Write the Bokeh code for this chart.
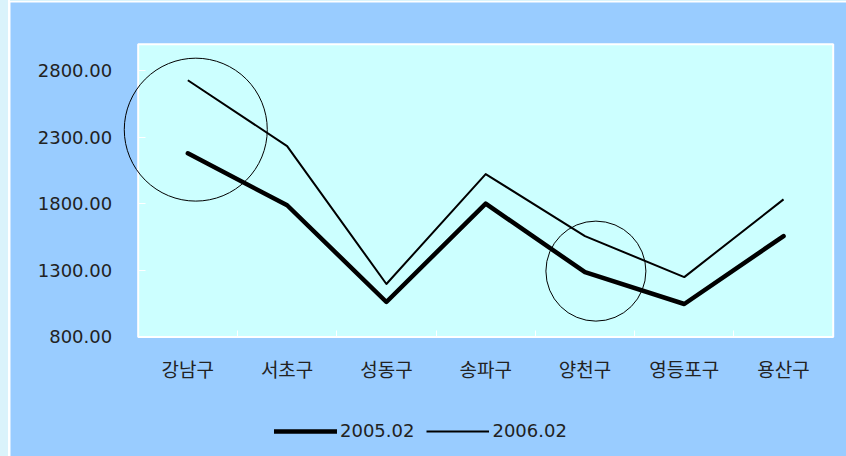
from bokeh.plotting import figure
from bokeh.models import (Range1d, LinearAxis, FixedTicker, PrintfTickFormatter,
                          Legend, LegendItem, Spacer, BoxAnnotation)
from bokeh.layouts import row, column
from bokeh.embed import file_html
from bokeh.resources import INLINE

# Apartment price per district (two survey months)
districts = ["강남구", "서초구", "성동구", "송파구", "양천구", "영등포구", "용산구"]
price_2005 = [2180, 1790, 1063, 1802, 1287, 1048, 1558]
price_2006 = [2729, 2234, 1198, 2024, 1558, 1250, 1834]
series_names = ["2005.02", "2006.02"]
y_ticks = [800, 1300, 1800, 2300, 2800]
y_min, y_max = 800, 3000

# Highlight rings: (x position on the district scale, value, diameter in px)
ring_x = [0.58, 4.61]
ring_y = [2358, 1295]
ring_size = [143, 100]

OUTER = "#99CCFF"
INNER = "#CCFFFF"
TEXT = "#222222"

n = len(districts)
xs = [i + 0.5 for i in range(n)]

# The frame fills the whole canvas; the plotting area is a box drawn in data
# space so that rings and the legend can spill past its edges.
p = figure(width=836, height=454, output_backend="svg", toolbar_location=None,
           x_range=Range1d(-1.286, n + 0.134), y_range=Range1d(-97.9, 3313.3),
           x_axis_location=None, y_axis_location=None,
           min_border=0)
p.background_fill_color = OUTER
p.border_fill_color = OUTER
p.outline_line_color = None
p.xgrid.visible = False
p.ygrid.visible = False

area = BoxAnnotation(left=0, right=n, bottom=y_min, top=y_max,
                     fill_color=INNER, fill_alpha=1,
                     line_color="white", line_width=2, line_alpha=1,
                     level="underlay")
p.add_layout(area)

# value axis
yax = LinearAxis(ticker=FixedTicker(ticks=y_ticks),
                 formatter=PrintfTickFormatter(format="%.2f"),
                 fixed_location=0)
yax.axis_line_color = None
yax.major_tick_in = 7
yax.major_tick_out = 0
yax.major_tick_line_color = "white"
yax.major_tick_line_width = 1
yax.minor_tick_line_color = None
yax.major_label_standoff = 26
yax.major_label_text_font = "DejaVu Sans"
yax.major_label_text_font_size = "18px"
yax.major_label_text_color = TEXT
p.add_layout(yax, "left")

# category boundary ticks
tax = LinearAxis(ticker=FixedTicker(ticks=list(range(1, n))), fixed_location=y_min)
tax.axis_line_color = None
tax.major_tick_in = 6
tax.major_tick_out = 0
tax.major_tick_line_color = "white"
tax.minor_tick_line_color = None
tax.major_label_overrides = {i: "" for i in range(1, n)}
p.add_layout(tax, "below")

# category labels
xax = LinearAxis(ticker=FixedTicker(ticks=xs),
                 major_label_overrides={x: d for x, d in zip(xs, districts)},
                 fixed_location=y_min)
xax.axis_line_color = None
xax.major_tick_in = 0
xax.major_tick_out = 0
xax.minor_tick_line_color = None
xax.major_label_standoff = 18
xax.major_label_text_font = "Noto Sans CJK KR"
xax.major_label_text_font_size = "19px"
xax.major_label_text_color = TEXT
p.add_layout(xax, "below")

r1 = p.line(xs, price_2005, line_color="black", line_width=4.5,
            line_cap="round", line_join="round")
r2 = p.line(xs, price_2006, line_color="black", line_width=2,
            line_join="round")

p.ellipse(x=ring_x, y=ring_y, width=ring_size, height=ring_size,
          width_units="screen", height_units="screen",
          fill_color=None, line_color="black", line_width=1)

legend = Legend(items=[LegendItem(label=series_names[0], renderers=[r1]),
                       LegendItem(label=series_names[1], renderers=[r2])],
                orientation="horizontal", location=(264, 15))
legend.background_fill_alpha = 0
legend.border_line_color = None
legend.padding = 0
legend.margin = 0
legend.spacing = 12
legend.glyph_width = 63
legend.glyph_height = 20
legend.label_standoff = 3
legend.label_text_font = "DejaVu Sans"
legend.label_text_font_size = "18px"
legend.label_text_color = TEXT
p.add_layout(legend, "center")

strip = Spacer(width=8, height=456, styles={"background-color": "#DAF3FB"})
edge = Spacer(width=2, height=456, styles={"background-color": "white"})
top1 = Spacer(width=836, height=1, styles={"background-color": "#DAF3FB"})
top2 = Spacer(width=836, height=1, styles={"background-color": "white"})

layout = row(strip, edge, column(top1, top2, p, spacing=0), spacing=0)

open("out.html", "w").write(file_html(layout, INLINE))
